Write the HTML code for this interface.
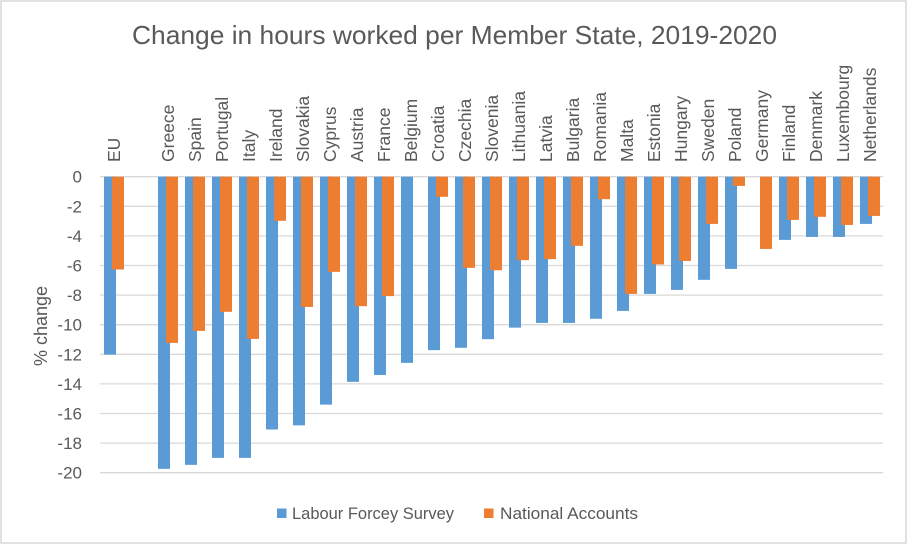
<!DOCTYPE html>
<html>
<head>
<meta charset="utf-8">
<style>
html,body{margin:0;padding:0;background:#fff;}
svg{display:block;}
text{font-family:"Liberation Sans",Arial,sans-serif;fill:#595959;}
</style>
</head>
<body>
<svg width="908" height="545" viewBox="0 0 908 545" xmlns="http://www.w3.org/2000/svg">
<rect x="0" y="0" width="908" height="545" fill="#fff"/>
<rect x="1" y="1" width="905" height="542" fill="none" stroke="#d9d9d9" stroke-width="1.5"/>

<text x="132" y="44" font-size="26" textLength="645" lengthAdjust="spacingAndGlyphs">Change in hours worked per Member State, 2019-2020</text>

<!-- gridlines -->
<g stroke="#d9d9d9" stroke-width="1.3">
<line x1="100" x2="883" y1="176.7" y2="176.7"/>
<line x1="100" x2="883" y1="206.3" y2="206.3"/>
<line x1="100" x2="883" y1="235.9" y2="235.9"/>
<line x1="100" x2="883" y1="265.5" y2="265.5"/>
<line x1="100" x2="883" y1="295.1" y2="295.1"/>
<line x1="100" x2="883" y1="324.7" y2="324.7"/>
<line x1="100" x2="883" y1="354.3" y2="354.3"/>
<line x1="100" x2="883" y1="383.9" y2="383.9"/>
<line x1="100" x2="883" y1="413.5" y2="413.5"/>
<line x1="100" x2="883" y1="443.1" y2="443.1"/>
<line x1="100" x2="883" y1="472.7" y2="472.7"/>
</g>

<!-- y tick labels -->
<g font-size="17" text-anchor="end">
<text x="82" y="182.7">0</text>
<text x="82" y="212.3">-2</text>
<text x="82" y="241.9">-4</text>
<text x="82" y="271.5">-6</text>
<text x="82" y="301.1">-8</text>
<text x="82" y="330.7">-10</text>
<text x="82" y="360.3">-12</text>
<text x="82" y="389.9">-14</text>
<text x="82" y="419.5">-16</text>
<text x="82" y="449.1">-18</text>
<text x="82" y="478.7">-20</text>
</g>

<text transform="translate(47,326) rotate(-90)" font-size="18" text-anchor="middle">% change</text>

<!-- bars -->
<g transform="translate(0,176.7) scale(1,14.8)">
<g fill="#5b9bd5">
<rect x="104" y="0" width="12" height="12.02"/>
<rect x="158" y="0" width="12" height="19.74"/>
<rect x="185" y="0" width="12" height="19.47"/>
<rect x="212" y="0" width="12" height="19.0"/>
<rect x="239" y="0" width="12" height="19.0"/>
<rect x="266" y="0" width="12" height="17.08"/>
<rect x="293" y="0" width="12" height="16.8"/>
<rect x="320" y="0" width="12" height="15.4"/>
<rect x="347" y="0" width="12" height="13.86"/>
<rect x="374" y="0" width="12" height="13.4"/>
<rect x="401" y="0" width="12" height="12.58"/>
<rect x="428" y="0" width="12" height="11.72"/>
<rect x="455" y="0" width="12" height="11.56"/>
<rect x="482" y="0" width="12" height="10.98"/>
<rect x="509" y="0" width="12" height="10.2"/>
<rect x="536" y="0" width="12" height="9.88"/>
<rect x="563" y="0" width="12" height="9.88"/>
<rect x="590" y="0" width="12" height="9.6"/>
<rect x="617" y="0" width="12" height="9.07"/>
<rect x="644" y="0" width="12" height="7.92"/>
<rect x="671" y="0" width="12" height="7.65"/>
<rect x="698" y="0" width="12" height="6.97"/>
<rect x="725" y="0" width="12" height="6.23"/>
<rect x="779" y="0" width="12" height="4.27"/>
<rect x="806" y="0" width="12" height="4.07"/>
<rect x="833" y="0" width="12" height="4.07"/>
<rect x="860" y="0" width="12" height="3.19"/>
</g>
<g fill="#ed7d31">
<rect x="112" y="0" width="12" height="6.27"/>
<rect x="166" y="0" width="12" height="11.23"/>
<rect x="193" y="0" width="12" height="10.42"/>
<rect x="220" y="0" width="12" height="9.13"/>
<rect x="247" y="0" width="12" height="10.96"/>
<rect x="274" y="0" width="12" height="2.98"/>
<rect x="301" y="0" width="12" height="8.8"/>
<rect x="328" y="0" width="12" height="6.43"/>
<rect x="355" y="0" width="12" height="8.75"/>
<rect x="382" y="0" width="12" height="8.07"/>
<rect x="436" y="0" width="12" height="1.36"/>
<rect x="463" y="0" width="12" height="6.16"/>
<rect x="490" y="0" width="12" height="6.32"/>
<rect x="517" y="0" width="12" height="5.64"/>
<rect x="544" y="0" width="12" height="5.57"/>
<rect x="571" y="0" width="12" height="4.67"/>
<rect x="598" y="0" width="12" height="1.52"/>
<rect x="625" y="0" width="12" height="7.92"/>
<rect x="652" y="0" width="12" height="5.93"/>
<rect x="679" y="0" width="12" height="5.69"/>
<rect x="706" y="0" width="12" height="3.19"/>
<rect x="733" y="0" width="12" height="0.62"/>
<rect x="760" y="0" width="12" height="4.88"/>
<rect x="787" y="0" width="12" height="2.92"/>
<rect x="814" y="0" width="12" height="2.71"/>
<rect x="841" y="0" width="12" height="3.26"/>
<rect x="868" y="0" width="12" height="2.65"/>
</g>
</g>

<!-- category labels -->
<g font-size="17.5">
<text transform="translate(120,162) rotate(-90)">EU</text>
<text transform="translate(174,162) rotate(-90)">Greece</text>
<text transform="translate(201,162) rotate(-90)">Spain</text>
<text transform="translate(228,162) rotate(-90)">Portugal</text>
<text transform="translate(255,162) rotate(-90)">Italy</text>
<text transform="translate(282,162) rotate(-90)">Ireland</text>
<text transform="translate(309,162) rotate(-90)">Slovakia</text>
<text transform="translate(336,162) rotate(-90)">Cyprus</text>
<text transform="translate(363,162) rotate(-90)">Austria</text>
<text transform="translate(390,162) rotate(-90)">France</text>
<text transform="translate(417,162) rotate(-90)">Belgium</text>
<text transform="translate(444,162) rotate(-90)">Croatia</text>
<text transform="translate(471,162) rotate(-90)">Czechia</text>
<text transform="translate(498,162) rotate(-90)">Slovenia</text>
<text transform="translate(525,162) rotate(-90)">Lithuania</text>
<text transform="translate(552,162) rotate(-90)">Latvia</text>
<text transform="translate(579,162) rotate(-90)">Bulgaria</text>
<text transform="translate(606,162) rotate(-90)">Romania</text>
<text transform="translate(633,162) rotate(-90)">Malta</text>
<text transform="translate(660,162) rotate(-90)">Estonia</text>
<text transform="translate(687,162) rotate(-90)">Hungary</text>
<text transform="translate(714,162) rotate(-90)">Sweden</text>
<text transform="translate(741,162) rotate(-90)">Poland</text>
<text transform="translate(768,162) rotate(-90)">Germany</text>
<text transform="translate(795,162) rotate(-90)">Finland</text>
<text transform="translate(822,162) rotate(-90)">Denmark</text>
<text transform="translate(849,162) rotate(-90)">Luxembourg</text>
<text transform="translate(876,162) rotate(-90)">Netherlands</text>
</g>

<!-- legend -->
<rect x="277" y="508.5" width="9.5" height="9.5" fill="#5b9bd5"/>
<text x="292" y="519" font-size="17" textLength="162" lengthAdjust="spacingAndGlyphs">Labour Forcey Survey</text>
<rect x="484" y="508.5" width="9.5" height="9.5" fill="#ed7d31"/>
<text x="500" y="519" font-size="17" textLength="138" lengthAdjust="spacingAndGlyphs">National Accounts</text>
</svg>
</body>
</html>
